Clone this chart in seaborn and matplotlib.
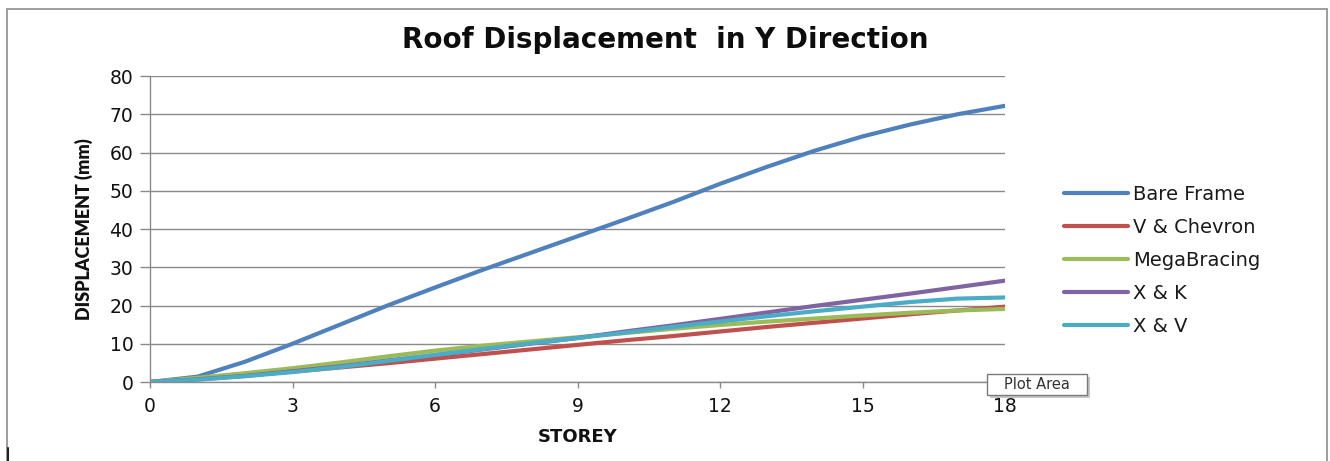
import matplotlib
matplotlib.use("Agg")
import matplotlib.pyplot as plt
from matplotlib.patches import Rectangle
from matplotlib.lines import Line2D
import numpy as np
import pandas as pd
import seaborn as sns

# Storey levels and roof displacement (mm) for each bracing system
storey = list(range(0, 19))
bare_frame = [0, 1.4, 5.3, 10.0, 15.0, 20.0, 24.7, 29.3, 33.7, 38.1,
              42.5, 47.0, 51.8, 56.3, 60.5, 64.2, 67.3, 70.0, 72.2]
v_chevron = [0, 0.8, 1.7, 2.7, 3.8, 4.9, 6.1, 7.3, 8.5, 9.7,
             10.9, 12.0, 13.2, 14.4, 15.5, 16.6, 17.7, 18.7, 19.7]
mega_bracing = [0, 1.1, 2.3, 3.6, 5.1, 6.7, 8.2, 9.5, 10.6, 11.7,
                12.8, 13.9, 14.9, 15.8, 16.6, 17.4, 18.1, 18.7, 19.1]
x_k = [0, 0.7, 1.6, 2.8, 4.1, 5.6, 7.0, 8.5, 10.0, 11.5,
       13.2, 14.8, 16.5, 18.2, 19.9, 21.5, 23.1, 24.8, 26.5]
x_v = [0, 0.6, 1.5, 2.6, 3.9, 5.5, 7.1, 8.6, 10.1, 11.5,
       12.9, 14.4, 15.8, 17.2, 18.5, 19.7, 20.9, 21.8, 22.1]

series_names = ["Bare Frame", "V & Chevron", "MegaBracing", "X & K", "X & V"]
series_values = [bare_frame, v_chevron, mega_bracing, x_k, x_v]
series_colors = ["#4F81BD", "#C0504D", "#9BBB59", "#8064A2", "#4BACC6"]

x_ticks = [0, 3, 6, 9, 12, 15, 18]
y_ticks = [0, 10, 20, 30, 40, 50, 60, 70, 80]

df = pd.concat(
    [pd.DataFrame({"Storey": storey, "Displacement": vals, "Series": name})
     for name, vals in zip(series_names, series_values)],
    ignore_index=True,
)

sns.set_theme(style="white")
plt.rcParams["font.family"] = ["DejaVu Sans"]

W, H = 1330, 461
fig = plt.figure(figsize=(W / 100, H / 100), dpi=100)
ax = fig.add_axes([150 / W, 1 - 382 / H, (1005 - 150) / W, (382 - 76) / H])

sns.lineplot(
    data=df, x="Storey", y="Displacement", hue="Series",
    hue_order=series_names, palette=dict(zip(series_names, series_colors)),
    linewidth=3.0, ax=ax, legend=True,
)

grid_col = "#8a8a8a"
ax.set_xlim(0, 18)
ax.set_ylim(0, 80)
ax.set_xticks(x_ticks)
ax.set_yticks(y_ticks)
ax.yaxis.grid(True, color=grid_col, linewidth=1.0)
ax.xaxis.grid(False)
for side in ["top", "right"]:
    ax.spines[side].set_visible(False)
for side in ["left", "bottom"]:
    ax.spines[side].set_color(grid_col)
    ax.spines[side].set_linewidth(1.0)
ax.tick_params(axis="y", left=True, length=7, width=1.0, color=grid_col,
               labelsize=13.5, pad=5, labelcolor="#111111")
ax.tick_params(axis="x", bottom=True, length=4.5, width=1.0, color=grid_col,
               labelsize=13.5, pad=6, labelcolor="#111111")

ax.set_xlabel("STOREY", fontsize=13, fontweight="bold", labelpad=9,
              color="#111111")
ax.set_ylabel("DISPLACEMENT (mm)", fontsize=13, fontweight="heavy",
              family=["Lato", "DejaVu Sans"], labelpad=12, color="#111111")

fig.text(665 / W, 1 - 40 / H, "Roof Displacement  in Y Direction",
         ha="center", va="center", fontsize=20, fontweight="bold",
         color="#0d0d0d")

handles, labels = ax.get_legend_handles_labels()
ax.get_legend().remove()
fig.legend(handles, labels, loc="upper left",
           bbox_to_anchor=(1056 / W, 1 - 177 / H), frameon=False,
           fontsize=14, handlelength=3.3, handletextpad=0.25,
           labelspacing=0.72, borderaxespad=0, labelcolor="#1a1a1a")

# Chart border
fig.add_artist(Rectangle((7 / W, -0.1), 1320 / W, 1.1 - 9 / H,
                         transform=fig.transFigure, fill=False,
                         edgecolor="#8c8c8c", linewidth=1.2))
fig.add_artist(Line2D([8 / W, 8 / W], [0, 13 / H], transform=fig.transFigure,
                      color="#222222", linewidth=1.5))

# Hover tip over the plot area, with a soft drop shadow
fig.add_artist(Rectangle((990 / W, 1 - 398 / H), 100 / W, 21 / H,
                         transform=fig.transFigure, facecolor="#c8c8c8",
                         edgecolor="none"))
fig.add_artist(Rectangle((987 / W, 1 - 395 / H), 100 / W, 21 / H,
                         transform=fig.transFigure, facecolor="white",
                         edgecolor="#7a7a7a", linewidth=1.0))
fig.text(1037 / W, 1 - 384.5 / H, "Plot Area", ha="center", va="center",
         fontsize=10.5, color="#333333")

fig.savefig("out.png", dpi=100)
